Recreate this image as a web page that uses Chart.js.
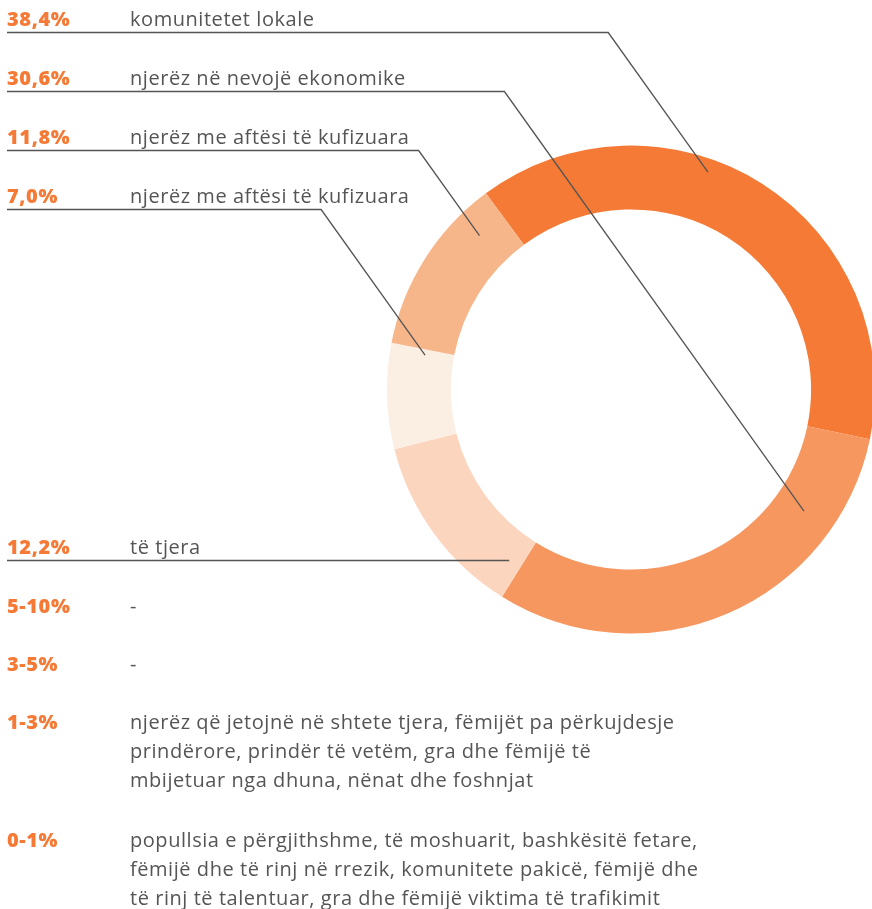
<!DOCTYPE html>
<html>
<head>
<meta charset="utf-8">
<script src="https://cdn.jsdelivr.net/npm/chart.js@4.4.1/dist/chart.umd.min.js"></script>
<style>
body { margin: 0; width: 872px; height: 909px; overflow: hidden; background: #fff; position: relative; font-family: "Open Sans", sans-serif; }
canvas { position: absolute; left: 0; top: 0; }
.pct { position: absolute; left: 7px; font-size: 20px; line-height: 29px; font-weight: 800; letter-spacing: 0.6px; color: #f47a36; white-space: nowrap; }
.txt { position: absolute; left: 130px; font-size: 20px; line-height: 29px; letter-spacing: 0.55px; color: #555; white-space: nowrap; }
</style>
</head>
<body>
<canvas id="donut" width="884" height="909"></canvas>
<div id="labels"></div>
<script>
// slices, clockwise from the top-left
var categories = ['komunitetet lokale', 'njerëz në nevojë ekonomike', 'të tjera', 'njerëz me aftësi të kufizuara', 'njerëz me aftësi të kufizuara'];
var shares = [38.4, 30.6, 12.2, 7.0, 11.8];
var shareLabels = ['38,4%', '30,6%', '12,2%', '7,0%', '11,8%'];

// groups without a slice
var rangeLabels = ['5-10%', '3-5%', '1-3%', '0-1%'];
var rangeTexts = [
    ['-'],
    ['-'],
    ['njerëz që jetojnë në shtete tjera, fëmijët pa përkujdesje',
     'prindërore, prindër të vetëm, gra dhe fëmijë të',
     'mbijetuar nga dhuna, nënat dhe foshnjat'],
    ['popullsia e përgjithshme, të moshuarit, bashkësitë fetare,',
     'fëmijë dhe të rinj në rrezik, komunitete pakicë, fëmijë dhe',
     'të rinj të talentuar, gra dhe fëmijë viktima të trafikimit']
];

var sliceColors = ['#f47a36', '#f69760', '#fcd5be', '#fbeee2', '#f7b68a'];

// layout of the label column
var listOrder = [0, 1, 4, 3, 2];
var rowBaseline = [26, 85, 144, 203, 554];
var rangeBaseline = [613, 671, 729, 847];
// where each leader line touches its slice (fraction along the arc, fraction into the ring)
var anchorAlong = [0.405, 0.212, 0.09, 0.94, 0.81];
var anchorDepth = [0.79, 0.49, 0.47, 0.45, 0.56];

var labelBox = document.getElementById('labels');
function addText(cls, text, baseline) {
    var d = document.createElement('div');
    d.className = cls;
    d.textContent = text;
    d.style.top = (baseline - 22.3) + 'px';
    labelBox.appendChild(d);
}
for (var r = 0; r < listOrder.length; r++) {
    addText('pct', shareLabels[listOrder[r]], rowBaseline[r]);
    addText('txt', categories[listOrder[r]], rowBaseline[r]);
}
for (var k = 0; k < rangeLabels.length; k++) {
    addText('pct', rangeLabels[k], rangeBaseline[k]);
    for (var j = 0; j < rangeTexts[k].length; j++) {
        addText('txt', rangeTexts[k][j], rangeBaseline[k] + j * 29);
    }
}

var leaderLines = {
    id: 'leaderLines',
    afterDatasetsDraw: function (chart) {
        var ctx = chart.ctx;
        var arcs = chart.getDatasetMeta(0).data;
        ctx.save();
        ctx.strokeStyle = '#555';
        ctx.lineWidth = 1.3;
        for (var r = 0; r < listOrder.length; r++) {
            var i = listOrder[r];
            var a = arcs[i];
            var ang = a.startAngle + anchorAlong[i] * (a.endAngle - a.startAngle);
            var rad = a.innerRadius + anchorDepth[i] * (a.outerRadius - a.innerRadius);
            var ex = a.x + Math.cos(ang) * rad;
            var ey = a.y + Math.sin(ang) * rad;
            var ly = rowBaseline[r] + 6.5;
            var kx = ex - (ey - ly) * 0.714;
            ctx.beginPath();
            ctx.moveTo(7, ly);
            ctx.lineTo(kx, ly);
            ctx.lineTo(ex, ey);
            ctx.stroke();
        }
        ctx.restore();
    }
};

new Chart(document.getElementById('donut'), {
    type: 'doughnut',
    data: {
        labels: categories,
        datasets: [{
            data: shares,
            backgroundColor: sliceColors,
            borderWidth: 0,
            hoverOffset: 0,
            offset: 0
        }]
    },
    options: {
        responsive: false,
        animation: false,
        events: [],
        rotation: -36.5,
        cutout: '73.8%',
        layout: { padding: { left: 387, right: 9, top: 145.5, bottom: 275.5 } },
        plugins: { legend: { display: false }, tooltip: { enabled: false } }
    },
    plugins: [leaderLines]
});
</script>
</body>
</html>
